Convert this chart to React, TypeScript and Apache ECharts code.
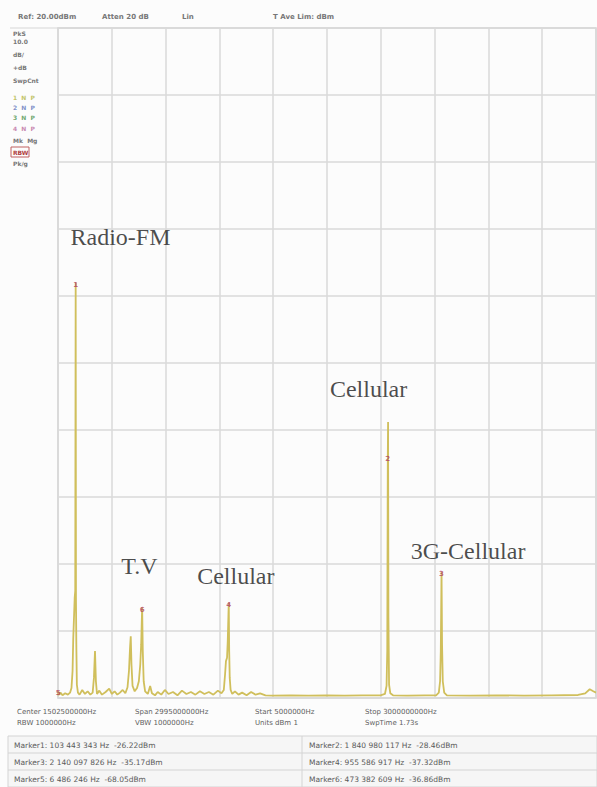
import React, { useEffect, useRef } from "react";
import * as echarts from "echarts";

// Spectrum trace (frequency in MHz, linear level as % of reference)
const traceFreqMHz = [
  5, 6.5, 12, 20, 30, 45, 60, 72, 80, 86, 90, 94, 98, 101, 103.4, 105, 107, 110, 116, 125,
  140, 155, 170, 185, 198, 205, 211, 216, 222, 235, 250, 270, 290, 305, 320, 335, 350, 365, 380,
  392, 400, 406, 410, 414, 420, 432, 445, 455, 463, 468, 473.4, 477, 482, 490, 505, 518, 528,
  545, 560, 580, 600, 620, 645, 670, 695, 720, 745, 770, 795, 820, 845, 870, 895, 915, 928,
  935, 940, 946, 950, 955.6, 958, 961, 966, 975, 990, 1010, 1030, 1055, 1080, 1105, 1130, 1160,
  1200, 1300, 1400, 1500, 1600, 1700, 1800, 1825, 1834, 1838, 1841, 1842.5, 1844.5, 1848, 1855,
  1870, 1950, 2050, 2110, 2125, 2132, 2136, 2140.1, 2143, 2147, 2155, 2170, 2300, 2450, 2600,
  2750, 2900, 2940, 2965, 2985, 3000,
];
const traceLevel = [
  0.4, 1.0, 0.5, 0.8, 0.4, 0.7, 0.5, 0.8, 1.5, 4, 9, 12, 15, 16, 62, 15, 8, 2, 0.8, 0.5,
  1.2, 0.6, 1.0, 0.5, 0.8, 3, 7, 2.5, 0.6, 1.1, 0.5, 0.9, 1.4, 0.6, 1.0, 0.5, 0.8, 1.2, 0.7,
  1.6, 4, 7.5, 9.2, 5, 1.8, 1.0, 1.5, 2.5, 5, 8, 13.5, 7, 2.5, 1.0, 0.6, 1.8, 0.7,
  0.4, 0.9, 0.5, 1.2, 0.6, 0.9, 0.4, 1.1, 0.6, 0.9, 0.5, 1.0, 0.6, 0.9, 0.5, 1.1, 0.7, 1.2,
  3.5, 5.5, 6, 8.5, 14.2, 7, 3, 1.2, 0.6, 1.0, 0.5, 0.8, 0.4, 0.9, 0.5, 0.7, 0.4,
  0.35, 0.4, 0.35, 0.4, 0.35, 0.4, 0.4, 0.6, 1.8, 7, 36, 41.2, 12, 2, 0.7,
  0.4, 0.35, 0.4, 0.4, 0.8, 2.5, 7, 18.8, 8, 2.5, 0.8, 0.4, 0.35, 0.4, 0.35,
  0.4, 0.45, 0.7, 1.3, 1.0, 0.8,
];

// Markers
const markerNames = ["1", "2", "3", "4", "5", "6"];
const markerFreqMHz = [103.4, 1841, 2140.1, 955.6, 6.5, 473.4];
const markerLevel = [62, 36, 18.8, 14.2, 1.0, 13.5];
const markerReadHz = ["103 443 343", "1 840 980 117", "2 140 097 826", "955 586 917", "6 486 246", "473 382 609"];
const markerReadDbm = ["-26.22", "-28.46", "-35.17", "-37.32", "-68.05", "-36.86"];

// Annotations (anchored in data coordinates: left edge / vertical middle of text)
const annotationText = ["Radio-FM", "T.V", "Cellular", "Cellular", "3G-Cellular"];
const annotationFreqMHz = [72, 355, 777, 1516, 1966];
const annotationLevel = [68.8, 19.7, 18.2, 46.1, 21.9];

// Instrument readouts
const headerTexts = ["Ref: 20.00dBm", "Atten 20 dB", "Lin", "T Ave Lim: dBm"];
const settingsRow1 = ["Center 1502500000Hz", "Span 2995000000Hz", "Start 5000000Hz", "Stop 3000000000Hz"];
const settingsRow2 = ["RBW 1000000Hz", "VBW 1000000Hz", "Units dBm 1", "SwpTime 1.73s"];
const sidePanel = ["PkS", "10.0", "dB/", "+dB", "SwpCnt", "1  N  P", "2  N  P", "3  N  P", "4  N  P", "Mk  Mg", "RBW", "Pk/g"];

export default function App() {
  const ref = useRef<HTMLDivElement>(null);
  useEffect(() => {
    if (!ref.current) return;
    const chart = echarts.init(ref.current, null, { renderer: "svg" });
    const gray = "#777777";
    const small = "DejaVu Sans, sans-serif";

    const graphics: any[] = [];
    const hx = [18, 102, 182, 273];
    headerTexts.forEach((t, i) =>
      graphics.push({ type: "text", x: hx[i], y: 17, style: { text: t, fill: gray, font: `bold 7px ${small}`, textVerticalAlign: "middle" } })
    );
    graphics.push({ type: "line", shape: { x1: 10, y1: 28, x2: 58, y2: 28 }, style: { stroke: "#d6d6d6", lineWidth: 1 } });
    const sideY = [33, 41, 54, 67, 80, 97, 107, 117, 128, 140, 152, 163];
    const sideCol = [gray, gray, gray, gray, gray, "#c2c46a", "#8090c8", "#70a870", "#c888b0", gray, "#b04040", gray];
    sidePanel.forEach((t, i) =>
      graphics.push({ type: "text", x: 13, y: sideY[i], style: { text: t, fill: sideCol[i], font: `bold 6px ${small}`, textVerticalAlign: "middle" } })
    );
    graphics.push({ type: "rect", shape: { x: 11, y: 147, width: 18, height: 10 }, style: { fill: "none", stroke: "#c06060", lineWidth: 1 } });

    const sx = [17, 135, 255, 365];
    settingsRow1.forEach((t, i) =>
      graphics.push({ type: "text", x: sx[i], y: 712, style: { text: t, fill: "#606060", font: `7px ${small}`, textVerticalAlign: "middle" } })
    );
    settingsRow2.forEach((t, i) =>
      graphics.push({ type: "text", x: sx[i], y: 723, style: { text: t, fill: "#606060", font: `7px ${small}`, textVerticalAlign: "middle" } })
    );

    // marker table
    graphics.push({ type: "rect", shape: { x: 8, y: 736, width: 589, height: 51 }, style: { fill: "#f6f6f6", stroke: "#d4d4d4", lineWidth: 1 } });
    graphics.push({ type: "line", shape: { x1: 8, y1: 753, x2: 597, y2: 753 }, style: { stroke: "#d4d4d4", lineWidth: 1 } });
    graphics.push({ type: "line", shape: { x1: 8, y1: 770, x2: 597, y2: 770 }, style: { stroke: "#d4d4d4", lineWidth: 1 } });
    graphics.push({ type: "line", shape: { x1: 302, y1: 736, x2: 302, y2: 787 }, style: { stroke: "#d4d4d4", lineWidth: 1 } });
    const rowY = [745, 762, 779];
    markerNames.forEach((n, i) => {
      const col = i % 2;
      const row = Math.floor(i / 2);
      graphics.push({
        type: "text",
        x: col === 0 ? 14 : 309,
        y: rowY[row],
        style: {
          text: `Marker${n}: ${markerReadHz[i]} Hz  ${markerReadDbm[i]}dBm`,
          fill: "#5a5a5a",
          font: `7.5px ${small}`,
          textVerticalAlign: "middle",
        },
      });
    });

    chart.setOption({
      animation: false,
      backgroundColor: "#fcfcfc",
      grid: { left: 58, right: 1, top: 28, bottom: 89, show: true, borderColor: "#cfcfcf", borderWidth: 1.5 },
      xAxis: [
        { type: "value", min: 5, max: 3000, show: false },
        {
          type: "value", min: 0, max: 10, interval: 1, position: "bottom",
          axisLine: { show: false }, axisTick: { show: false }, axisLabel: { show: false },
          splitLine: { show: true, lineStyle: { color: "#dadada", width: 1.5 } },
        },
      ],
      yAxis: {
        type: "value", min: 0, max: 100, interval: 10,
        axisLine: { show: false }, axisTick: { show: false }, axisLabel: { show: false },
        splitLine: { show: true, lineStyle: { color: "#dadada", width: 1.5 } },
      },
      series: [
        {
          type: "line",
          xAxisIndex: 0,
          data: traceFreqMHz.map((f, i) => [f, traceLevel[i]]),
          showSymbol: false,
          lineStyle: { color: "#d0bf5c", width: 1.8 },
          z: 3,
        },
        {
          type: "scatter",
          xAxisIndex: 0,
          data: markerFreqMHz.map((f, i) => [f, markerLevel[i]]),
          symbolSize: 1,
          itemStyle: { color: "rgba(0,0,0,0)" },
          label: {
            show: true, position: "inside", offset: [0, 2],
            formatter: (p: any) => markerNames[p.dataIndex],
            color: "#b04060", fontSize: 7, fontWeight: "bold", fontFamily: small,
          },
          z: 4,
        },
        {
          type: "scatter",
          xAxisIndex: 0,
          data: annotationFreqMHz.map((f, i) => [f, annotationLevel[i]]),
          symbolSize: 1,
          itemStyle: { color: "rgba(0,0,0,0)" },
          label: {
            show: true, position: "right", distance: 0,
            formatter: (p: any) => annotationText[p.dataIndex],
            color: "#1c1c1c", fontSize: 24, fontFamily: "Liberation Serif, serif",
          },
          z: 5,
        },
      ],
      graphic: graphics,
    });
    return () => chart.dispose();
  }, []);
  return <div ref={ref} style={{ position: "absolute", left: 0, top: 0, width: 597, height: 787 }} />;
}
